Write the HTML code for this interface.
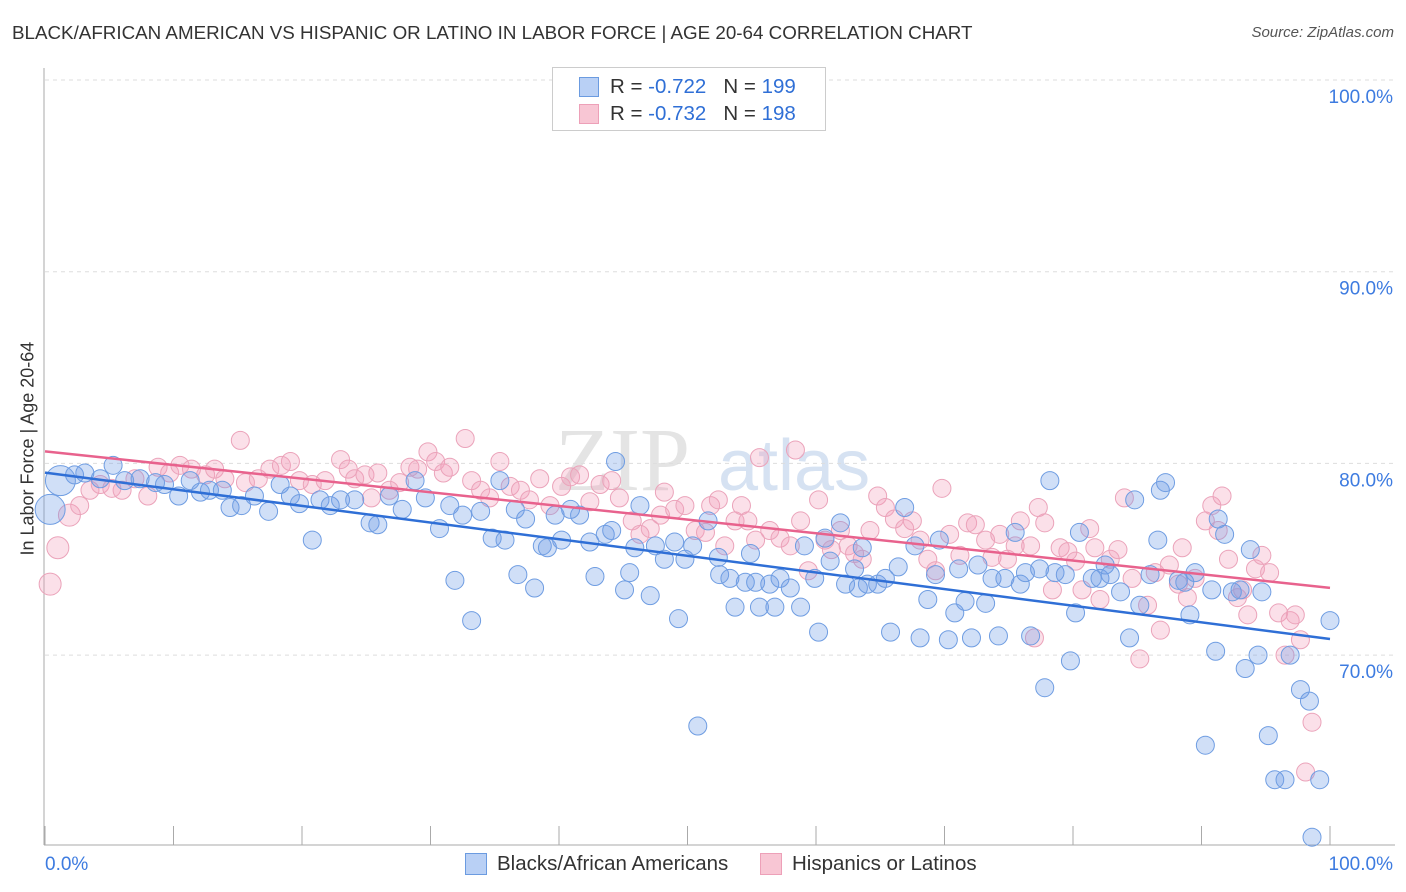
<!DOCTYPE html>
<html><head><meta charset="utf-8"><style>
body{margin:0;background:#fff;font-family:"Liberation Sans",sans-serif;}
#wrap{position:relative;width:1406px;height:892px;overflow:hidden;}
.t{position:absolute;white-space:nowrap;}
</style></head><body>
<div id="wrap">
<div class="t" style="left:12px;top:22px;font-size:18.8px;color:#333;">BLACK/AFRICAN AMERICAN VS HISPANIC OR LATINO IN LABOR FORCE | AGE 20-64 CORRELATION CHART</div>
<div class="t" style="right:12px;top:24px;font-size:15px;color:#555;font-style:italic;">Source: ZipAtlas.com</div>
<div class="t" style="left:-72px;top:445px;font-size:18px;color:#333;transform:rotate(-90deg);width:200px;text-align:center;">In Labor Force | Age 20-64</div>
<svg id="plot" width="1406" height="892" style="position:absolute;left:0;top:0"></svg>
<div style="position:absolute;left:552px;top:67px;width:272px;height:62px;border:1px solid #ccc;background:#fff;">
 <div style="position:absolute;left:26px;top:9px;width:18px;height:18px;background:#b9d0f5;border:1px solid #6b9be0;"></div>
 <div class="t" style="left:57px;top:7px;font-size:20.5px;color:#333;">R = <span style="color:#2f6fd6">-0.722</span>&nbsp;&nbsp;&nbsp;N = <span style="color:#2f6fd6">199</span></div>
 <div style="position:absolute;left:26px;top:36px;width:18px;height:18px;background:#f8c6d4;border:1px solid #eda0b8;"></div>
 <div class="t" style="left:57px;top:34px;font-size:20.5px;color:#333;">R = <span style="color:#2f6fd6">-0.732</span>&nbsp;&nbsp;&nbsp;N = <span style="color:#2f6fd6">198</span></div>
</div>
<div style="position:absolute;left:465px;top:853px;width:20px;height:20px;background:#b9d0f5;border:1px solid #6b9be0;"></div>
<div class="t" style="left:497px;top:852px;font-size:20.5px;color:#333;">Blacks/African Americans</div>
<div style="position:absolute;left:760px;top:853px;width:20px;height:20px;background:#f8c6d4;border:1px solid #eda0b8;"></div>
<div class="t" style="left:792px;top:852px;font-size:20.5px;color:#333;">Hispanics or Latinos</div>
</div>
<script>
const yTicks=[100,90,80,70];
const xTickLabels=["0.0%","100.0%"];
const blueX=[0.4,1.2,2.3,3.1,4.3,5.3,6.2,7.4,8.6,9.3,10.4,11.3,12.1,12.8,13.8,14.4,15.3,16.3,17.4,18.3,19.1,19.8,20.8,21.4,22.2,23.0,24.1,25.3,25.9,26.8,27.8,28.8,29.6,30.7,31.5,31.9,32.5,33.2,33.9,34.8,35.4,35.8,36.6,36.8,37.4,38.1,38.7,39.1,39.7,40.2,40.9,41.6,42.4,42.8,43.6,44.1,44.4,45.1,45.5,45.9,46.3,47.1,47.5,48.2,49.0,49.3,49.8,50.4,50.8,51.6,52.4,52.5,53.3,53.7,54.5,54.9,55.3,55.6,56.4,56.8,57.2,58.0,58.8,59.1,59.9,60.2,60.7,61.1,61.9,62.3,63.0,63.3,63.6,64.0,64.8,65.4,65.8,66.4,66.9,67.7,68.1,68.7,69.3,69.6,70.3,70.8,71.1,71.6,72.1,72.6,73.2,73.7,74.2,74.7,75.5,75.9,76.3,76.7,77.4,77.8,78.2,78.6,79.4,79.8,80.2,80.5,81.5,82.1,82.5,82.9,83.7,84.4,84.8,85.2,86.0,86.6,86.8,87.2,88.2,88.7,89.1,89.5,90.3,90.8,91.1,91.3,91.8,92.4,93.0,93.4,93.8,94.4,94.7,95.2,95.7,96.5,96.9,97.7,98.4,99.2,100,98.6];
const blueY=[77.6,79.1,79.4,79.5,79.2,79.9,79.1,79.2,79.0,78.9,78.3,79.1,78.5,78.6,78.6,77.7,77.8,78.3,77.5,78.9,78.3,77.9,76.0,78.1,77.8,78.1,78.1,76.9,76.8,78.3,77.6,79.1,78.2,76.6,77.8,73.9,77.3,71.8,77.5,76.1,79.1,76.0,77.6,74.2,77.1,73.5,75.7,75.6,77.3,76.0,77.6,77.3,75.9,74.1,76.3,76.5,80.1,73.4,74.3,75.6,77.8,73.1,75.7,75.0,75.9,71.9,75.0,75.7,66.3,77.0,75.1,74.2,74.0,72.5,73.8,75.3,73.8,72.5,73.7,72.5,74.0,73.5,72.5,75.7,74.0,71.2,76.1,74.9,76.9,73.7,74.5,73.5,75.6,73.7,73.7,74.0,71.2,74.6,77.7,75.7,70.9,72.9,74.2,76.0,70.8,72.2,74.5,72.8,70.9,74.7,72.7,74.0,71.0,74.0,76.4,73.7,74.3,71.0,74.5,68.3,79.1,74.3,74.2,69.7,72.2,76.4,74.0,74.0,74.7,74.2,73.3,70.9,78.1,72.6,74.2,76.0,78.6,79.0,73.9,73.8,72.1,74.3,65.3,73.4,70.2,77.1,76.3,73.3,73.4,69.3,75.5,70.0,73.3,65.8,63.5,63.5,70.0,68.2,67.6,63.5,71.8,60.5];
const pinkX=[0.4,1.0,1.9,2.7,3.5,4.3,5.2,6.0,7.0,8.0,8.8,9.7,10.5,11.4,12.5,13.2,14.0,15.2,15.6,16.6,17.5,18.4,19.1,19.8,20.8,21.8,23.0,23.6,24.1,24.9,25.4,25.9,26.8,27.6,28.4,29.0,29.8,30.4,31.0,31.5,32.7,33.2,33.9,34.6,35.4,36.2,37.0,37.7,38.5,39.3,40.2,40.9,41.6,42.4,43.2,44.1,44.7,45.7,46.3,47.1,47.9,48.2,49.0,49.8,50.6,51.4,51.8,52.4,52.9,53.7,54.2,54.7,55.3,55.6,56.4,57.2,58.0,58.4,58.8,59.4,60.2,60.7,61.2,61.9,62.5,63.0,63.6,64.2,64.8,65.4,66.1,66.9,67.5,68.1,68.7,69.3,69.8,70.4,71.2,71.8,72.4,73.2,73.7,74.3,74.9,75.5,75.9,76.7,77.0,77.3,77.8,78.4,79.0,79.6,80.2,80.7,81.3,81.7,82.1,82.9,83.5,84.0,84.6,85.2,85.8,86.4,86.8,87.5,88.2,88.5,88.9,89.5,90.3,90.8,91.3,91.6,92.1,92.8,93.2,93.6,94.2,94.7,95.3,96.0,96.5,96.9,97.3,97.7,98.1,98.6];
const pinkY=[73.7,75.6,77.3,77.8,78.6,78.9,78.7,78.6,79.2,78.3,79.8,79.5,79.9,79.7,79.4,79.7,79.2,81.2,79.0,79.2,79.7,79.9,80.1,79.1,78.9,79.1,80.2,79.7,79.2,79.4,78.2,79.5,78.6,79.0,79.8,79.7,80.6,80.1,79.5,79.8,81.3,79.1,78.6,78.2,80.1,78.8,78.6,78.1,79.2,77.8,78.8,79.3,79.4,78.0,78.9,79.1,78.2,77.0,76.3,76.6,77.3,78.5,77.6,77.8,76.5,76.4,77.8,78.1,75.7,77.0,77.8,77.0,76.0,80.3,76.5,76.1,75.7,80.7,77.0,74.4,78.1,76.0,75.5,76.5,75.7,75.3,75.0,76.5,78.3,77.7,77.1,76.6,77.0,76.0,75.0,74.4,78.7,76.3,75.2,76.9,76.8,76.0,75.1,76.3,75.0,75.7,77.0,75.7,70.9,77.7,76.9,73.4,75.6,75.4,74.9,73.4,76.6,75.6,72.9,75.0,75.5,78.2,74.0,69.8,72.6,74.3,71.3,74.7,73.7,75.6,73.0,74.0,77.0,77.8,76.5,78.3,75.0,73.0,73.4,72.1,74.5,75.2,74.3,72.2,70.0,71.8,72.1,70.8,63.9,66.5];

const svg=document.getElementById('plot');
const NS='http://www.w3.org/2000/svg';
const X0=45,X1=1330,Y100=80,PXPER=19.17;
function xs(v){return X0+(X1-X0)*v/100;}
function ys(v){return Y100+(100-v)*PXPER;}
function mk(tag,attrs){const e=document.createElementNS(NS,tag);for(const k in attrs)e.setAttribute(k,attrs[k]);svg.appendChild(e);return e;}

let wm=mk('text',{x:555,y:490,'font-size':90,'font-family':'Liberation Serif, serif',fill:'#e4e4e4'});
wm.textContent='ZIP';


let wm2=mk('text',{x:718,y:490,'font-size':72,'font-family':'Liberation Sans, sans-serif',fill:'#d6e2f2'});
wm2.textContent='atlas';



yTicks.forEach(v=>{
 const l=mk('line',{x1:X0,x2:1395,y1:ys(v),y2:ys(v),stroke:'#ddd','stroke-dasharray':'4,4'});
 
 
 const t=mk('text',{x:1393,y:ys(v)+23,'text-anchor':'end','font-size':19,fill:'#3d7be0','font-family':'Liberation Sans, sans-serif'});
 t.textContent=v.toFixed(1)+'%';
 
 
});
let ax=mk('line',{x1:44,x2:44,y1:68,y2:845,stroke:'#aaa'});


let bx=mk('line',{x1:44,x2:1395,y1:845,y2:845,stroke:'#aaa'});


for(let i=0;i<=10;i++){
 const tk=mk('line',{x1:xs(i*10),x2:xs(i*10),y1:826,y2:845,stroke:'#aaa'});
 
 
}
let xl0=mk('text',{x:45,y:870,'font-size':19,fill:'#3d7be0','font-family':'Liberation Sans, sans-serif'});
xl0.textContent=xTickLabels[0];


let xl1=mk('text',{x:1393,y:870,'text-anchor':'end','font-size':19,fill:'#3d7be0','font-family':'Liberation Sans, sans-serif'});
xl1.textContent=xTickLabels[1];



function dots(X,Y,fill,stroke,name,bigBelow,bigR){
 X.forEach((x,i)=>{
  const r=(x<bigBelow)?bigR:9;
  const c=mk('circle',{cx:xs(x),cy:ys(Y[i]),r:r,fill:fill,stroke:stroke,'stroke-width':1});
  
  
 });
}
function fit(X,Y){const n=X.length;let mx=0,my=0;for(let i=0;i<n;i++){mx+=X[i];my+=Y[i];}mx/=n;my/=n;let sxy=0,sxx=0;for(let i=0;i<n;i++){sxy+=(X[i]-mx)*(Y[i]-my);sxx+=(X[i]-mx)**2;}const b=sxy/sxx;return [my-b*mx,b];}
dots(pinkX,pinkY,'rgba(242,160,186,0.32)','#eba3ba','point-hispanic',2.5,11);
dots(blueX,blueY,'rgba(110,155,230,0.32)','#6f9de2','point-black',1.5,15);
const fb=fit(blueX,blueY),fp=fit(pinkX,pinkY);
let lb=mk('line',{x1:xs(0),y1:ys(fb[0]),x2:xs(100),y2:ys(fb[0]+fb[1]*100),stroke:'#2f6fd6','stroke-width':2.5});


let lp=mk('line',{x1:xs(0),y1:ys(fp[0]),x2:xs(100),y2:ys(fp[0]+fp[1]*100),stroke:'#e8628d','stroke-width':2.5});


</script>
</body></html>
